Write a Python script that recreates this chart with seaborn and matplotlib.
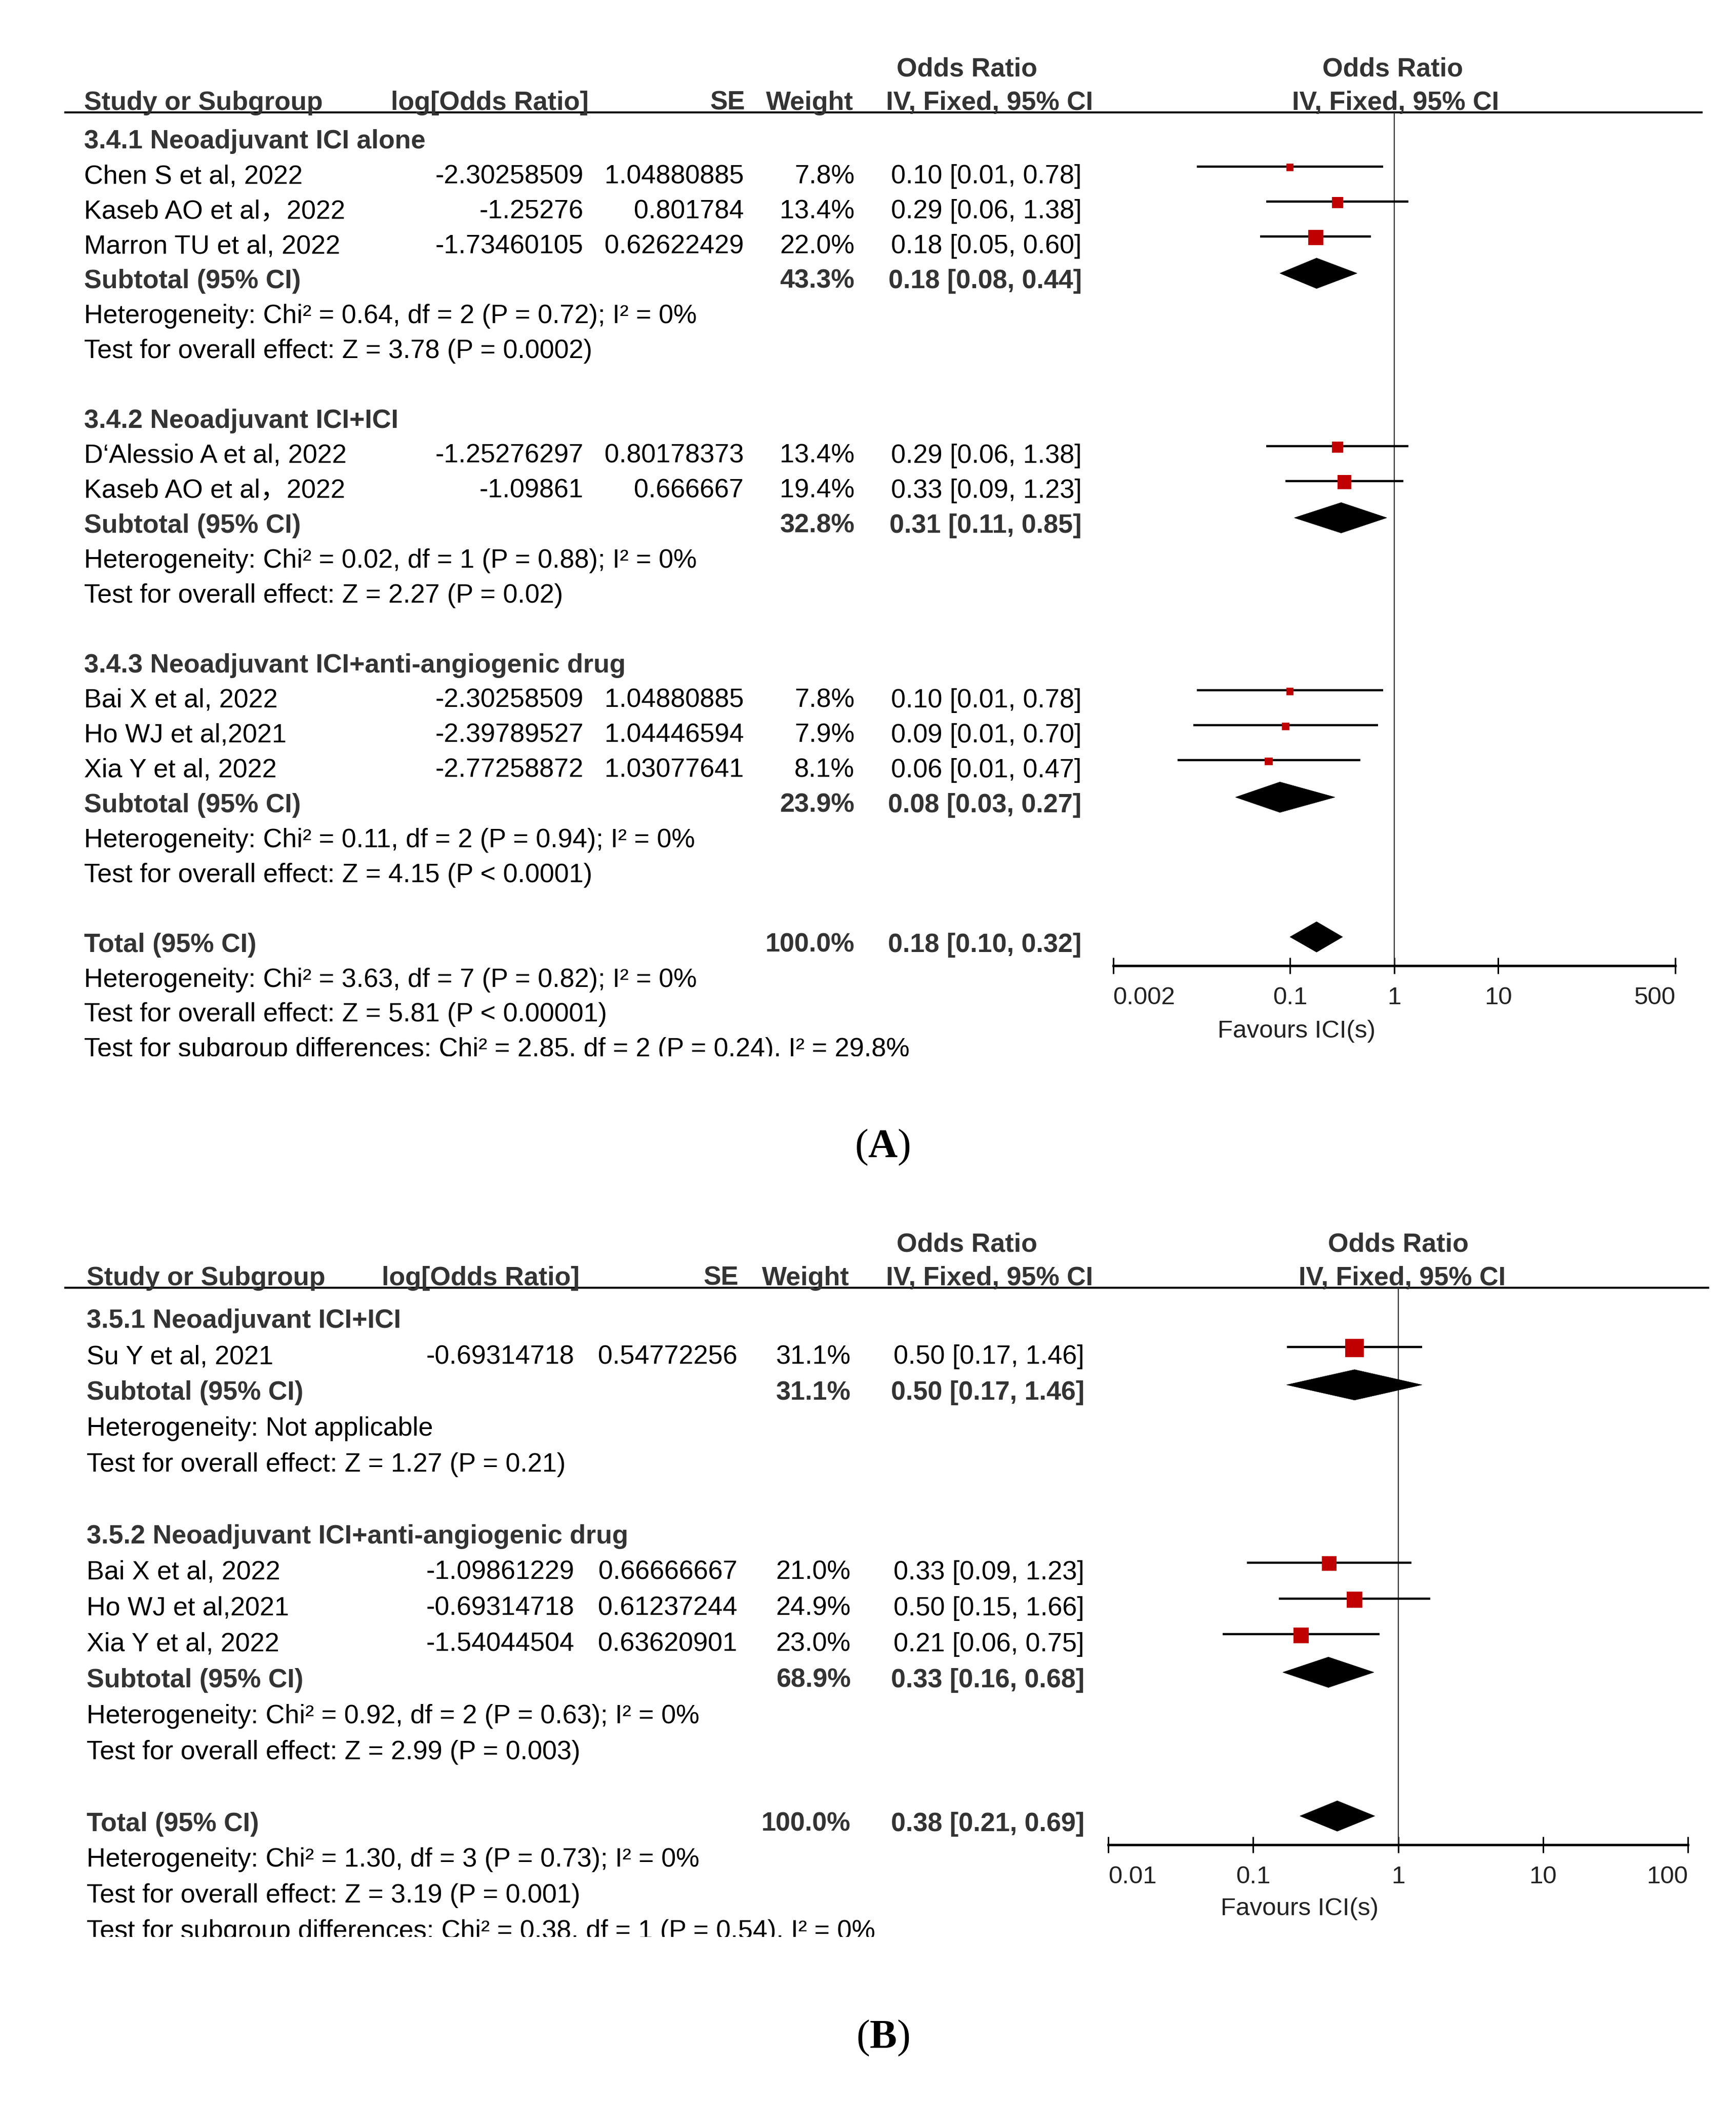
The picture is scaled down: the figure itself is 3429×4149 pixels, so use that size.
"""
forest.py
--------------------
Two fixed-effect forest plots (odds ratio, IV method) stacked as panels A and B.
"""

import numpy as np
import matplotlib
matplotlib.use("Agg")
import matplotlib.pyplot as plt
import seaborn as sns
from matplotlib.patches import Polygon
from matplotlib.ticker import NullLocator
from matplotlib.transforms import Bbox, TransformedBbox

sns.set_theme(style="white")
plt.rcParams["font.family"] = ["Liberation Sans", "Noto Sans CJK SC", "DejaVu Sans"]
plt.rcParams["mathtext.fontset"] = "custom"
plt.rcParams["mathtext.rm"] = "Liberation Serif"
plt.rcParams["mathtext.bf"] = "Liberation Serif:bold"

# === PANEL A DATA ===
groups_a = ["3.4.1 Neoadjuvant ICI alone", "3.4.2 Neoadjuvant ICI+ICI",
            "3.4.3 Neoadjuvant ICI+anti-angiogenic drug"]
group_sizes_a = [3, 2, 3]
studies_a = ["Chen S et al, 2022", "Kaseb AO et al，2022", "Marron TU et al, 2022",
             "D‘Alessio A et al, 2022", "Kaseb AO et al，2022",
             "Bai X et al, 2022", "Ho WJ et al,2021", "Xia Y et al, 2022"]
log_or_a = ["-2.30258509", "-1.25276", "-1.73460105", "-1.25276297", "-1.09861",
            "-2.30258509", "-2.39789527", "-2.77258872"]
se_a = ["1.04880885", "0.801784", "0.62622429", "0.80178373", "0.666667",
        "1.04880885", "1.04446594", "1.03077641"]
weight_a = [7.8, 13.4, 22.0, 13.4, 19.4, 7.8, 7.9, 8.1]
or_a = [0.10, 0.29, 0.18, 0.29, 0.33, 0.10, 0.09, 0.06]
or_lo_a = [0.01, 0.06, 0.05, 0.06, 0.09, 0.01, 0.01, 0.01]
or_hi_a = [0.78, 1.38, 0.60, 1.38, 1.23, 0.78, 0.70, 0.47]
sub_weight_a = [43.3, 32.8, 23.9]
sub_or_a = [0.18, 0.31, 0.08]
sub_lo_a = [0.08, 0.11, 0.03]
sub_hi_a = [0.44, 0.85, 0.27]
sub_het_a = ["Heterogeneity: Chi² = 0.64, df = 2 (P = 0.72); I² = 0%",
             "Heterogeneity: Chi² = 0.02, df = 1 (P = 0.88); I² = 0%",
             "Heterogeneity: Chi² = 0.11, df = 2 (P = 0.94); I² = 0%"]
sub_test_a = ["Test for overall effect: Z = 3.78 (P = 0.0002)",
              "Test for overall effect: Z = 2.27 (P = 0.02)",
              "Test for overall effect: Z = 4.15 (P < 0.0001)"]
total_a = [0.18, 0.10, 0.32]
total_lines_a = ["Heterogeneity: Chi² = 3.63, df = 7 (P = 0.82); I² = 0%",
                 "Test for overall effect: Z = 5.81 (P < 0.00001)",
                 "Test for subgroup differences: Chi² = 2.85, df = 2 (P = 0.24), I² = 29.8%"]
ticks_a = [0.002, 0.1, 1, 10, 500]
tick_labels_a = ["0.002", "0.1", "1", "10", "500"]

# === PANEL B DATA ===
groups_b = ["3.5.1 Neoadjuvant ICI+ICI", "3.5.2 Neoadjuvant ICI+anti-angiogenic drug"]
group_sizes_b = [1, 3]
studies_b = ["Su Y et al, 2021", "Bai X et al, 2022", "Ho WJ et al,2021", "Xia Y et al, 2022"]
log_or_b = ["-0.69314718", "-1.09861229", "-0.69314718", "-1.54044504"]
se_b = ["0.54772256", "0.66666667", "0.61237244", "0.63620901"]
weight_b = [31.1, 21.0, 24.9, 23.0]
or_b = [0.50, 0.33, 0.50, 0.21]
or_lo_b = [0.17, 0.09, 0.15, 0.06]
or_hi_b = [1.46, 1.23, 1.66, 0.75]
sub_weight_b = [31.1, 68.9]
sub_or_b = [0.50, 0.33]
sub_lo_b = [0.17, 0.16]
sub_hi_b = [1.46, 0.68]
sub_het_b = ["Heterogeneity: Not applicable",
             "Heterogeneity: Chi² = 0.92, df = 2 (P = 0.63); I² = 0%"]
sub_test_b = ["Test for overall effect: Z = 1.27 (P = 0.21)",
              "Test for overall effect: Z = 2.99 (P = 0.003)"]
total_b = [0.38, 0.21, 0.69]
total_lines_b = ["Heterogeneity: Chi² = 1.30, df = 3 (P = 0.73); I² = 0%",
                 "Test for overall effect: Z = 3.19 (P = 0.001)",
                 "Test for subgroup differences: Chi² = 0.38, df = 1 (P = 0.54), I² = 0%"]
ticks_b = [0.01, 0.1, 1, 10, 100]
tick_labels_b = ["0.01", "0.1", "1", "10", "100"]

# === LAYOUT (canvas units: 1300 wide) ===
W, H = 1300.0, 1300.0 * 4149 / 3429
FS = 37.5
TY = 4.0          # text baseline nudge
BOLD = dict(fontweight="bold", color="#333333")
NORM = dict(color="black")
RED = "#C00000"

layout_a = dict(rule=84, rule_x=(48, 1275), y0=102, step=26.15, x_study=63,
                x_log=437, x_se=557, x_w=640, x_ci=810, xh_log=441, xh_se=558, xh_w=639,
                c_or=724, c_iv=741, c_for=1043, c_for_iv=1045,
                ax_x=(833.5, 1254.5), axis_line=723, fav=(971, 768),
                clip=791, label="A", label_y=855)
layout_b = dict(rule=964, rule_x=(48, 1280), y0=985, step=26.9, x_study=65,
                x_log=430, x_se=552, x_w=637, x_ci=812, xh_log=434, xh_se=553, xh_w=636,
                c_or=724, c_iv=741, c_for=1047, c_for_iv=1050,
                ax_x=(830, 1264), axis_line=1381, fav=(973, 1425),
                clip=1450, label="B", label_y=1522)

fig = plt.figure(figsize=(34.29, 41.49), dpi=100)
tax = fig.add_axes([0, 0, 1, 1])
tax.set_xlim(0, W)
tax.set_ylim(H, 0)
tax.axis("off")


def txt(x, y, s, ha="left", bold=False, **kw):
    style = BOLD if bold else NORM
    return tax.text(x, y + TY, s, ha=ha, va="center", fontsize=FS, **style, **kw)


def draw_panel(L, groups, sizes, studies, log_or, se, weight, ors, lo, hi,
               sw, so, sl, sh, het, test, total, total_lines, ticks, tick_labels):
    yrow = lambda r: L["y0"] + L["step"] * r

    # --- header ---
    rule = L["rule"]
    txt(L["c_or"], rule - 36, "Odds Ratio", ha="center", bold=True)
    txt(L["c_for"], rule - 36, "Odds Ratio", ha="center", bold=True)
    txt(L["x_study"], rule - 11, "Study or Subgroup", bold=True)
    txt(L["xh_log"], rule - 11, "log[Odds Ratio]", ha="right", bold=True)
    txt(L["xh_se"], rule - 11, "SE", ha="right", bold=True)
    txt(L["xh_w"], rule - 11, "Weight", ha="right", bold=True)
    txt(L["c_iv"], rule - 11, "IV, Fixed, 95% CI", ha="center", bold=True)
    txt(L["c_for_iv"], rule - 11, "IV, Fixed, 95% CI", ha="center", bold=True)
    tax.hlines(rule, L["rule_x"][0], L["rule_x"][1], color="black", lw=2.8)

    # --- forest axes ---
    x0, x1 = L["ax_x"]
    y_top, y_bot = rule, L["axis_line"]
    ax = fig.add_axes([x0 / W, 1 - y_bot / H, (x1 - x0) / W, (y_bot - y_top) / H])
    ax.patch.set_alpha(0)

    study_y, diamonds = [], []
    r, k = 0, 0
    for g, n in enumerate(sizes):
        txt(L["x_study"], yrow(r), groups[g], bold=True)
        for i in range(n):
            yy = yrow(r + 1 + i)
            txt(L["x_study"], yy, studies[k])
            txt(L["x_log"], yy, log_or[k], ha="right")
            txt(L["x_se"], yy, se[k], ha="right")
            txt(L["x_w"], yy, f"{weight[k]:.1f}%", ha="right")
            txt(L["x_ci"], yy, f"{ors[k]:.2f} [{lo[k]:.2f}, {hi[k]:.2f}]", ha="right")
            study_y.append(yy)
            k += 1
        ys = yrow(r + n + 1)
        txt(L["x_study"], ys, "Subtotal (95% CI)", bold=True)
        txt(L["x_w"], ys, f"{sw[g]:.1f}%", ha="right", bold=True)
        txt(L["x_ci"], ys, f"{so[g]:.2f} [{sl[g]:.2f}, {sh[g]:.2f}]", ha="right", bold=True)
        diamonds.append((so[g], sl[g], sh[g], ys))
        txt(L["x_study"], yrow(r + n + 2), het[g])
        txt(L["x_study"], yrow(r + n + 3), test[g])
        r += n + 5

    yt = yrow(r)
    txt(L["x_study"], yt, "Total (95% CI)", bold=True)
    txt(L["x_w"], yt, "100.0%", ha="right", bold=True)
    txt(L["x_ci"], yt, f"{total[0]:.2f} [{total[1]:.2f}, {total[2]:.2f}]", ha="right", bold=True)
    diamonds.append((total[0], total[1], total[2], yt))
    for j, line in enumerate(total_lines):
        t = txt(L["x_study"], yrow(r + 1 + j), line, clip_on=True)
    # the last line is cut off at the bottom in the original figure
    t.set_clip_box(TransformedBbox(Bbox([[0, 0], [W, L["clip"]]]), tax.transData))

    # --- study estimates from log OR and SE ---
    lor = np.array([float(v) for v in log_or])
    sev = np.array([float(v) for v in se])
    est = np.exp(lor)
    ci_lo = np.exp(lor - 1.96 * sev)
    ci_hi = np.exp(lor + 1.96 * sev)
    sy = np.array(study_y) - 3.5
    ax.hlines(sy, ci_lo, ci_hi, color="black", lw=3.2, zorder=2)
    sns.scatterplot(x=est, y=sy + 0.8, size=weight, sizes=(115, 680), size_norm=(7.8, 31.1),
                    marker="s", color=RED, linewidth=0, legend=False, ax=ax, zorder=3)
    for e, l, h, yy in diamonds:
        yc = yy - 2
        ax.add_patch(Polygon([(l, yc), (e, yc - 11.4), (h, yc), (e, yc + 11.4)],
                             closed=True, facecolor="black", edgecolor="black", lw=0.5, zorder=3))

    ax.set_xscale("log")
    ax.set_xlim(ticks[0], ticks[-1])
    ax.set_ylim(y_bot, y_top)
    ax.axvline(1, color="#333333", lw=1.6, zorder=1)
    for s in ["top", "left", "right"]:
        ax.spines[s].set_visible(False)
    ax.spines["bottom"].set_linewidth(3.4)
    ax.spines["bottom"].set_color("black")
    ax.set_yticks([])
    ax.set_xlabel("")
    ax.set_ylabel("")
    ax.set_xticks(ticks)
    ax.set_xticklabels(tick_labels)
    ax.xaxis.set_minor_locator(NullLocator())
    ax.tick_params(axis="x", bottom=True, direction="inout", length=23, width=2.2,
                   color="black", pad=18, labelsize=35.5, labelcolor="#222222")
    labels = ax.get_xticklabels()
    labels[0].set_ha("left")
    labels[-1].set_ha("right")

    tax.text(L["fav"][0], L["fav"][1] + TY, "Favours ICI(s)", ha="center",
             va="center", fontsize=35.5, color="#222222")

    tax.text(661, L["label_y"] + TY, "(" + r"$\mathbf{" + L["label"] + "}$" + ")",
             ha="center", va="center", fontsize=58, family="Liberation Serif", color="black")


draw_panel(layout_a, groups_a, group_sizes_a, studies_a, log_or_a, se_a, weight_a,
           or_a, or_lo_a, or_hi_a, sub_weight_a, sub_or_a, sub_lo_a, sub_hi_a,
           sub_het_a, sub_test_a, total_a, total_lines_a, ticks_a, tick_labels_a)
draw_panel(layout_b, groups_b, group_sizes_b, studies_b, log_or_b, se_b, weight_b,
           or_b, or_lo_b, or_hi_b, sub_weight_b, sub_or_b, sub_lo_b, sub_hi_b,
           sub_het_b, sub_test_b, total_b, total_lines_b, ticks_b, tick_labels_b)

fig.savefig("out.png", dpi=100, facecolor="white")
